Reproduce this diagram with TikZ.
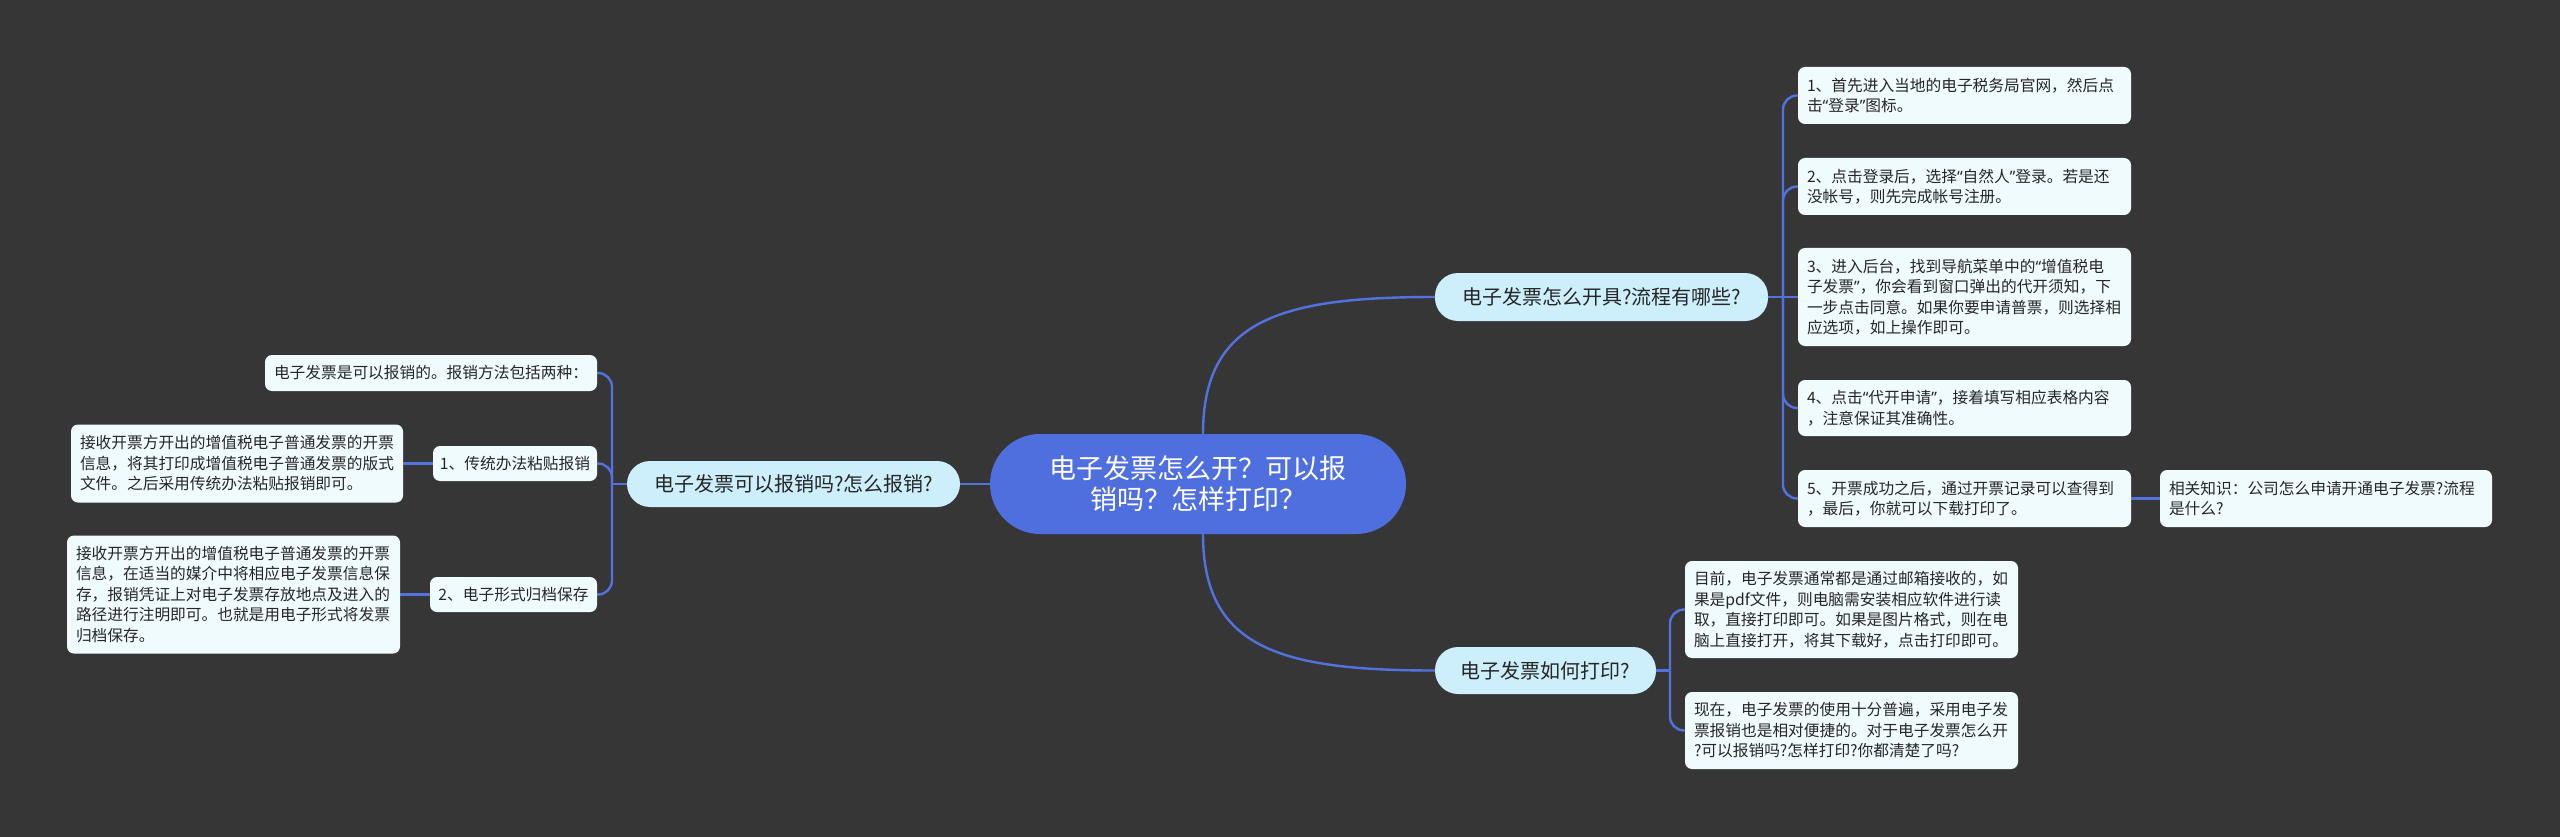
\documentclass[tikz,border=0pt]{standalone}
\usepackage{fontspec}
\setmainfont{Noto Sans CJK SC}
\newfontfamily\qf{Noto Sans}
\newcommand{\myLQ}{{\qf “}}
\newcommand{\myRQ}{{\qf ”}}
\usetikzlibrary{calc}
\definecolor{bgc}{HTML}{373637}
\definecolor{mainblue}{HTML}{4F6FDF}
\definecolor{linec}{HTML}{5272E0}
\definecolor{branchfill}{HTML}{CDEFFC}
\definecolor{leaffill}{HTML}{F0FBFE}
\definecolor{darktext}{HTML}{262626}
\pgfdeclarelayer{bg}
\pgfdeclarelayer{canvas}
\pgfsetlayers{canvas,bg,main}
\begin{document}
\begin{tikzpicture}[x=1pt,y=-1pt,
  leaf/.style={fill=leaffill, rounded corners=7pt, inner xsep=9pt, inner ysep=0pt,
    text=darktext, font=\fontsize{15.7}{20.5}\selectfont, align=left},
  branch/.style={fill=branchfill, rounded corners=23pt, inner sep=0pt,
    text=darktext, font=\fontsize{20}{24}\selectfont, align=center},
  root/.style={fill=mainblue, rounded corners=50pt, inner sep=0pt,
    text=white, font=\fontsize{27}{31}\selectfont, align=center},
  conn/.style={draw=linec, line width=2.4pt},
]
\begin{pgfonlayer}{canvas}
\fill[bgc] (0,0) rectangle (2560,837);
\end{pgfonlayer}
\useasboundingbox (0,0) rectangle (2560,837);

% root
\node[root, minimum width=416pt, minimum height=100pt] (C) at (1198,484)
  {电子发票怎么开？可以报\\销吗？怎样打印？};

% branches
\node[branch, minimum width=333pt, minimum height=48pt] (B1) at (1601.5,297) {电子发票怎么开具?流程有哪些?};
\node[branch, minimum width=221pt, minimum height=47pt] (B2) at (1545.5,670.5) {电子发票如何打印?};
\node[branch, minimum width=333pt, minimum height=46pt] (B3) at (793.5,484) {电子发票可以报销吗?怎么报销?};

% right leaves of B1
\node[leaf, text width=315pt, minimum height=57pt] (L1) at (1964.5,95.5)
  {1、首先进入当地的电子税务局官网，然后点\\击\myLQ 登录\myRQ 图标。};
\node[leaf, text width=315pt, minimum height=57pt] (L2) at (1964.5,186.5)
  {2、点击登录后，选择\myLQ 自然人\myRQ 登录。若是还\\没帐号，则先完成帐号注册。};
\node[leaf, text width=315pt, minimum height=98pt] (L3) at (1964.5,297)
  {3、进入后台，找到导航菜单中的\myLQ 增值税电\\子发票\myRQ ，你会看到窗口弹出的代开须知，下\\一步点击同意。如果你要申请普票，则选择相\\应选项，如上操作即可。};
\node[leaf, text width=315pt, minimum height=56pt] (L4) at (1964.5,408)
  {4、点击\myLQ 代开申请\myRQ ，接着填写相应表格内容\\，注意保证其准确性。};
\node[leaf, text width=315pt, minimum height=57pt] (L5) at (1964.5,498.5)
  {5、开票成功之后，通过开票记录可以查得到\\，最后，你就可以下载打印了。};
\node[leaf, text width=314pt, minimum height=57pt] (R) at (2326,498.5)
  {相关知识：公司怎么申请开通电子发票?流程\\是什么?};

% leaves of B2
\node[leaf, text width=315pt, minimum height=97pt] (PA) at (1851.5,609.5)
  {目前，电子发票通常都是通过邮箱接收的，如\\果是pdf文件，则电脑需安装相应软件进行读\\取，直接打印即可。如果是图片格式，则在电\\脑上直接打开，将其下载好，点击打印即可。};
\node[leaf, text width=315pt, minimum height=77pt] (PB) at (1851.5,730.5)
  {现在，电子发票的使用十分普遍，采用电子发\\票报销也是相对便捷的。对于电子发票怎么开\\?可以报销吗?怎样打印?你都清楚了吗?};

% left leaves of B3
\node[leaf, text width=314pt, minimum height=36pt] (LA) at (431,373)
  {电子发票是可以报销的。报销方法包括两种：};
\node[leaf, inner xsep=0pt, minimum width=164pt, minimum height=35pt, align=center] (LB1) at (515,463.5)
  {1、传统办法粘贴报销};
\node[leaf, inner xsep=0pt, minimum width=167pt, minimum height=35pt, align=center] (LB2) at (513.5,594.5)
  {2、电子形式归档保存};
\node[leaf, text width=314pt, minimum height=78pt] (LL1) at (237,463.5)
  {接收开票方开出的增值税电子普通发票的开票\\信息，将其打印成增值税电子普通发票的版式\\文件。之后采用传统办法粘贴报销即可。};
\node[leaf, text width=315pt, minimum height=118pt] (LL2) at (233.5,594.5)
  {接收开票方开出的增值税电子普通发票的开票\\信息，在适当的媒介中将相应电子发票信息保\\存，报销凭证上对电子发票存放地点及进入的\\路径进行注明即可。也就是用电子形式将发票\\归档保存。};

\coordinate (J1) at (1783,297);
\coordinate (J2) at (1670,670.5);
\coordinate (J3) at (612,484);

\begin{pgfonlayer}{bg}
\draw[conn] ($(C.north)+(5,0)$) .. controls (1203,320) and (1280,297) .. (B1.west);
\draw[conn] ($(C.south)+(5,0)$) .. controls (1203,648) and (1280,670.5) .. (B2.west);
\draw[conn] (C.west) -- (B3.east);
\draw[conn] (B1.east) -- (J1) -- (L3.west);
\foreach \n in {L1,L2,L4,L5} \draw[conn, rounded corners=14pt] (J1) |- (\n.west);
\draw[conn] (L5.east) -- (R.west);
\draw[conn] (B2.east) -- (J2);
\foreach \n in {PA,PB} \draw[conn, rounded corners=14pt] (J2) |- (\n.west);
\draw[conn] (B3.west) -- (J3);
\foreach \n in {LA,LB1,LB2} \draw[conn, rounded corners=14pt] (J3) |- (\n.east);
\draw[conn] (LB1.west) -- (LL1.east);
\draw[conn] (LB2.west) -- (LL2.east);
\end{pgfonlayer}
\end{tikzpicture}
\end{document}
